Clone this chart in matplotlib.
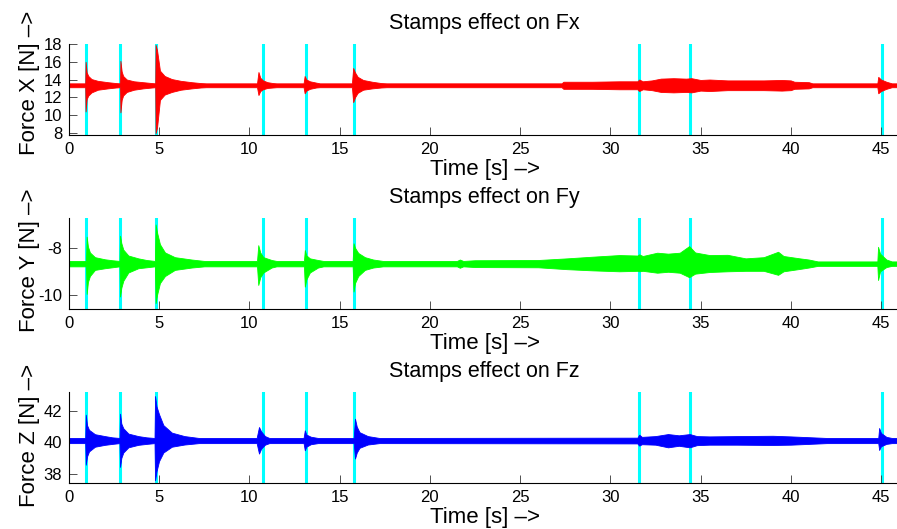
import matplotlib
matplotlib.use("Agg")
import matplotlib.pyplot as plt

plt.rcParams['font.family'] = ['Liberation Sans', 'DejaVu Sans']
plt.rcParams['axes.unicode_minus'] = False

# ---------------- data (envelopes of the measured force signals) ----------------
stamp_times = [0.94, 2.84, 4.82, 10.73, 13.13, 15.79, 31.58, 34.40, 45.04]

fx_t = [0.0, 0.90, 0.92, 0.98, 1.07, 1.25, 1.60, 2.15, 2.60, 2.83,
        2.85, 2.92, 3.00, 3.20, 3.60, 4.10, 4.60, 4.78,
        4.80, 4.88, 5.04, 5.30, 5.70, 6.20, 6.80, 7.30, 7.60,
        10.42, 10.50, 10.60, 10.75, 11.00, 11.30, 11.50,
        13.00, 13.06, 13.15, 13.35, 13.70, 13.90,
        15.68, 15.75, 15.85, 16.00, 16.30, 16.80, 17.30, 17.60,
        27.30, 27.40, 29.00, 30.50, 31.50, 31.60, 31.80, 32.30, 32.80, 33.50, 34.20,
        34.50, 35.00, 35.50, 36.50, 37.50, 38.50, 39.50, 40.00, 40.20, 41.00, 41.20,
        44.80, 44.85, 45.00, 45.30, 45.60, 46.00]
fx_hi = [13.57, 13.57, 16.0, 14.8, 14.4, 14.05, 13.85, 13.7, 13.6, 13.57,
         16.1, 14.9, 14.4, 14.0, 13.8, 13.7, 13.6, 13.57,
         17.9, 17.3, 15.0, 14.4, 14.05, 13.85, 13.7, 13.6, 13.57,
         13.57, 14.85, 14.2, 13.9, 13.7, 13.6, 13.57,
         13.57, 14.4, 14.0, 13.8, 13.65, 13.57,
         13.57, 15.3, 14.8, 14.3, 13.95, 13.75, 13.6, 13.57,
         13.57, 13.75, 13.75, 13.8, 13.8, 14.0, 13.8, 13.9, 14.1, 14.15, 14.1,
         14.15, 13.95, 14.0, 13.9, 13.9, 13.9, 13.95, 13.9, 13.75, 13.7, 13.57,
         13.57, 14.3, 14.0, 13.75, 13.57, 13.57]
fx_lo = [13.13, 13.13, 10.4, 11.8, 12.2, 12.55, 12.85, 13.0, 13.1, 13.13,
         10.3, 11.7, 12.2, 12.6, 12.85, 13.0, 13.1, 13.13,
         7.95, 8.6, 11.7, 12.3, 12.6, 12.85, 13.0, 13.1, 13.13,
         13.13, 12.25, 12.7, 12.9, 13.05, 13.1, 13.13,
         13.13, 12.45, 12.75, 12.95, 13.1, 13.13,
         13.13, 11.45, 12.0, 12.5, 12.85, 13.0, 13.1, 13.13,
         13.13, 12.95, 12.95, 12.9, 12.9, 12.7, 12.9, 12.8, 12.6, 12.55, 12.6,
         12.55, 12.75, 12.7, 12.8, 12.8, 12.8, 12.75, 12.8, 12.95, 13.0, 13.13,
         13.13, 12.45, 12.7, 12.95, 13.13, 13.13]

fy_t = [0.0, 0.94, 0.98, 1.05, 1.16, 1.44, 1.99, 2.40, 2.80,
        2.83, 2.90, 3.01, 3.29, 3.84, 4.30, 4.76,
        4.80, 4.88, 5.04, 5.32, 5.87, 6.80, 7.50,
        10.42, 10.49, 10.60, 10.77, 11.23, 11.50,
        13.02, 13.07, 13.15, 13.35, 13.80, 14.10,
        15.72, 15.77, 15.85, 16.03, 16.40, 16.86, 17.40,
        21.50, 21.66, 21.85, 22.50, 26.00, 27.60, 29.00, 30.50, 31.50, 31.60, 31.80,
        32.60, 33.20, 33.85, 34.37, 34.70, 35.50, 36.50, 37.50, 38.50, 39.30, 39.60,
        40.50, 41.00, 41.50,
        44.80, 44.84, 44.95, 45.30, 45.60, 46.00]
fy_hi = [-8.56, -8.56, -7.53, -7.95, -8.2, -8.4, -8.49, -8.53, -8.56,
         -7.49, -7.8, -8.08, -8.33, -8.45, -8.52, -8.56,
         -7.01, -7.35, -7.85, -8.2, -8.4, -8.5, -8.56,
         -8.56, -7.89, -8.2, -8.4, -8.52, -8.56,
         -8.56, -8.1, -8.32, -8.45, -8.52, -8.56,
         -8.56, -7.81, -8.0, -8.22, -8.4, -8.5, -8.56,
         -8.56, -8.5, -8.56, -8.53, -8.52, -8.45, -8.38, -8.31, -8.33, -8.28, -8.35,
         -8.21, -8.25, -8.21, -7.93, -8.2, -8.31, -8.3, -8.45, -8.4, -8.17, -8.35,
         -8.45, -8.5, -8.58,
         -8.58, -7.96, -8.25, -8.5, -8.58, -8.58]
fy_lo = [-8.79, -8.79, -9.96, -9.45, -9.2, -8.94, -8.87, -8.83, -8.79,
         -10.07, -9.7, -9.4, -9.05, -8.87, -8.83, -8.79,
         -10.35, -10.0, -9.5, -9.2, -8.94, -8.84, -8.79,
         -8.79, -9.58, -9.25, -9.05, -8.84, -8.79,
         -8.79, -9.65, -9.35, -9.05, -8.84, -8.79,
         -8.79, -9.86, -9.5, -9.2, -8.94, -8.84, -8.79,
         -8.79, -8.85, -8.79, -8.82, -8.83, -8.91, -8.96, -9.0, -8.98, -9.0, -8.98,
         -9.06, -9.02, -9.06, -9.25, -9.1, -9.03, -9.0, -8.98, -8.98, -9.15, -9.0,
         -8.9, -8.84, -8.77,
         -8.77, -9.37, -9.0, -8.82, -8.77, -8.77]

fz_t = [0.0, 0.90, 0.93, 1.00, 1.11, 1.44, 1.99, 2.40, 2.80,
        2.83, 2.90, 3.01, 3.29, 3.84, 4.30, 4.74,
        4.77, 4.85, 4.99, 5.23, 5.70, 6.40, 7.20,
        10.40, 10.53, 10.65, 10.86, 11.10,
        13.00, 13.07, 13.15, 13.40, 13.80,
        15.78, 15.85, 15.95, 16.10, 16.56, 17.20,
        31.50, 31.60, 31.75, 32.50, 33.20, 33.80, 34.40, 34.80, 35.50, 37.00, 39.00,
        40.00, 41.00, 42.00,
        44.85, 44.90, 45.00, 45.30, 45.60, 46.00]
fz_hi = [40.28, 40.28, 41.77, 41.1, 40.8, 40.52, 40.4, 40.32, 40.28,
         41.83, 41.2, 40.9, 40.56, 40.4, 40.32, 40.28,
         42.96, 42.3, 41.8, 41.1, 40.62, 40.4, 40.28,
         40.28, 40.98, 40.7, 40.4, 40.28,
         40.28, 40.77, 40.5, 40.36, 40.28,
         40.28, 41.51, 41.0, 40.65, 40.4, 40.28,
         40.3, 40.49, 40.35, 40.4, 40.53, 40.45, 40.53, 40.4, 40.38, 40.4, 40.42,
         40.38, 40.33, 40.28,
         40.28, 40.92, 40.6, 40.35, 40.28, 40.28]
fz_lo = [39.95, 39.95, 38.57, 39.1, 39.42, 39.72, 39.84, 39.9, 39.95,
         38.43, 39.0, 39.35, 39.68, 39.84, 39.9, 39.95,
         37.57, 38.15, 38.8, 39.35, 39.72, 39.86, 39.95,
         39.95, 39.28, 39.6, 39.85, 39.95,
         39.95, 39.49, 39.72, 39.88, 39.95,
         39.95, 38.96, 39.35, 39.65, 39.86, 39.95,
         39.93, 39.79, 39.88, 39.85, 39.68, 39.78, 39.68, 39.82, 39.85, 39.85, 39.83,
         39.85, 39.9, 39.95,
         39.95, 39.51, 39.75, 39.9, 39.95, 39.95]

titles = ["Stamps effect on Fx", "Stamps effect on Fy", "Stamps effect on Fz"]
ylabels = ["Force X [N] –>", "Force Y [N] –>", "Force Z [N] –>"]
xlabel = "Time [s] –>"
x_ticks = [0, 5, 10, 15, 20, 25, 30, 35, 40, 45]
y_ticks = [[8, 10, 12, 14, 16, 18], [-10, -8], [38, 40, 42]]
y_limits = [(7.75, 18.0), (-10.6, -6.75), (37.4, 43.2)]
x_limit = (0, 46)

signals = [(fx_t, fx_hi, fx_lo, '#ff0000'),
           (fy_t, fy_hi, fy_lo, '#00ff00'),
           (fz_t, fz_hi, fz_lo, '#0000ff')]

# ---------------- layout ----------------
W, H = 897, 529
fig = plt.figure(figsize=(W / 100, H / 100), dpi=100)
left_px, right_px = 69, 899
tops = [44, 218.3, 392.3]
bottoms = [135, 309, 483]
ylabel_frac = [0.57, 0.54, 0.52]

for i in range(3):
    ax = fig.add_axes([left_px / W, 1 - bottoms[i] / H,
                       (right_px - left_px) / W, (bottoms[i] - tops[i]) / H])
    t, hi, lo, col = signals[i]
    for st in stamp_times:
        ax.axvline(st, color='#00ffff', lw=2.2, zorder=1)
    ax.fill_between(t, lo, hi, color=col, lw=0.6, edgecolor=col, zorder=2)
    ax.set_xlim(*x_limit)
    ax.set_ylim(*y_limits[i])
    ax.set_xticks(x_ticks)
    ax.set_yticks(y_ticks[i])
    for s in ['top', 'right']:
        ax.spines[s].set_visible(False)
    for s in ['left', 'bottom']:
        ax.spines[s].set_linewidth(0.8)
    ax.tick_params(direction='in', length=6, width=0.6, labelsize=12,
                   color='#333333', pad=5)
    ax.set_title(titles[i], fontsize=15.5, pad=11)
    ax.set_xlabel(xlabel, fontsize=16)
    ax.xaxis.set_label_coords((485 - left_px) / (right_px - left_px),
                              -(24) / (bottoms[i] - tops[i]))
    ax.set_ylabel(ylabels[i], fontsize=16)
    ax.yaxis.set_label_coords(-(69 - 40) / (right_px - left_px), ylabel_frac[i])

fig.savefig("out.png", dpi=100)
